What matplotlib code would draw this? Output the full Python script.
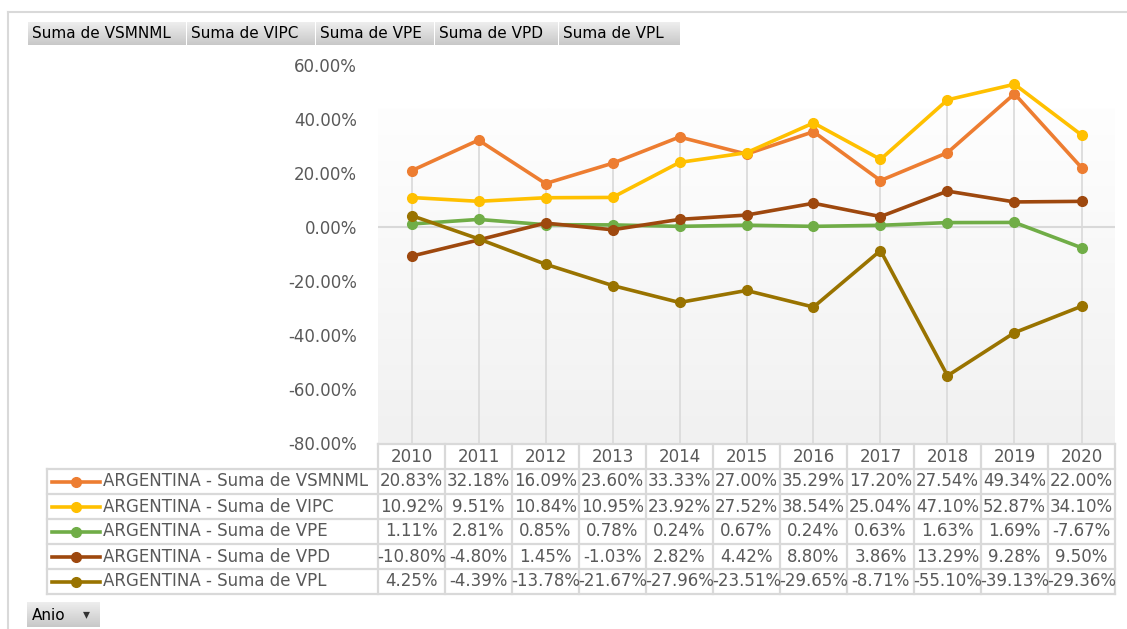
import numpy as np
import matplotlib.pyplot as plt
from matplotlib.colors import LinearSegmentedColormap
from matplotlib.lines import Line2D

# data (percent)
years = ["2010", "2011", "2012", "2013", "2014", "2015", "2016", "2017", "2018", "2019", "2020"]
series_labels = ["ARGENTINA - Suma de VSMNML", "ARGENTINA - Suma de VIPC", "ARGENTINA - Suma de VPE",
                 "ARGENTINA - Suma de VPD", "ARGENTINA - Suma de VPL"]
vsmnml = [20.83, 32.18, 16.09, 23.60, 33.33, 27.00, 35.29, 17.20, 27.54, 49.34, 22.00]
vipc = [10.92, 9.51, 10.84, 10.95, 23.92, 27.52, 38.54, 25.04, 47.10, 52.87, 34.10]
vpe = [1.11, 2.81, 0.85, 0.78, 0.24, 0.67, 0.24, 0.63, 1.63, 1.69, -7.67]
vpd = [-10.80, -4.80, 1.45, -1.03, 2.82, 4.42, 8.80, 3.86, 13.29, 9.28, 9.50]
vpl = [4.25, -4.39, -13.78, -21.67, -27.96, -23.51, -29.65, -8.71, -55.10, -39.13, -29.36]
buttons = ["Suma de VSMNML", "Suma de VIPC", "Suma de VPE", "Suma de VPD", "Suma de VPL"]
yticks = [60, 40, 20, 0, -20, -40, -60, -80]

series = [vsmnml, vipc, vpe, vpd, vpl]
colors = ["#ED7D31", "#FFC000", "#70AD47", "#9E480E", "#997300"]

W, H = 1127, 629
fig = plt.figure(figsize=(W / 100, H / 100), dpi=100)
plt.rcParams['font.family'] = ['DejaVu Sans']
GRID = "#d9d9d9"
TXT = "#595959"
FS = 12


def fx(x):
    return x / W


def fy(y):
    return 1 - y / H


def gradient_box(x0, y0, x1, y1, top, bottom):
    a = fig.add_axes([fx(x0), fy(y1), fx(x1) - fx(x0), fy(y0) - fy(y1)])
    cm = LinearSegmentedColormap.from_list("g", [top, bottom])
    a.imshow(np.linspace(0, 1, 64).reshape(-1, 1), cmap=cm, aspect="auto", extent=[0, 1, 0, 1])
    a.set_axis_off()
    return a


# outer frame
fig.add_artist(Line2D([fx(8), 1], [fy(12), fy(12)], color=GRID, lw=1.5))
fig.add_artist(Line2D([fx(8), fx(8)], [fy(12), 0], color=GRID, lw=1.5))

# field buttons
edges = [27, 186, 315, 434, 558, 680]
for i, name in enumerate(buttons):
    gradient_box(edges[i] + 1, 22, edges[i + 1], 45, "#eeeeee", "#c8c8c8")
    fig.text(fx(edges[i] + 5), fy(34), name, fontsize=11, color="black", va="center", ha="left")

gradient_box(27, 602, 100, 627, "#eeeeee", "#c8c8c8")
fig.text(fx(32), fy(615), "Anio", fontsize=11, color="black", va="center", ha="left")
fig.text(fx(86), fy(614), "\u25BE", fontsize=10, color="#333333", va="center", ha="center")

# main chart
left, right, top, bottom = 378, 1115, 65, 443
ax = fig.add_axes([fx(left), fy(bottom), fx(right) - fx(left), fy(top) - fy(bottom)])
x = np.arange(len(years))
ax.set_xlim(-0.5, len(years) - 0.5)
ax.set_ylim(-80, 60)
cm = LinearSegmentedColormap.from_list("bg", ["#fefefe", "#f1f1f1"])
ax.imshow(np.linspace(0, 1, 128).reshape(-1, 1), cmap=cm, aspect="auto",
          extent=[-0.5, len(years) - 0.5, -80, 44], zorder=0)
ax.axhline(0, color=GRID, lw=1.5, zorder=1)
tops = np.max(np.array(series), axis=0)
ax.vlines(x, -80, tops, color=GRID, lw=1.2, zorder=1)
for vals, c in zip(series, colors):
    ax.plot(x, vals, color=c, lw=2.6, marker="o", ms=7, zorder=3)
ax.set_yticks(yticks)
ax.set_yticklabels([f"{v:.2f}%" for v in yticks], color=TXT, fontsize=FS)
ax.tick_params(axis="y", length=0, pad=15)
ax.set_xticks([])
for s in ax.spines.values():
    s.set_visible(False)

# data table
colw = (right - left) / len(years)
hdr_top, row_h = 444, 25
nrows = len(series)
tab_bottom = hdr_top + row_h * (nrows + 1)
lw_t = 1.6
fig.add_artist(Line2D([fx(left), fx(right)], [fy(hdr_top)] * 2, color=GRID, lw=lw_t))
for r in range(1, nrows + 2):
    yy = hdr_top + row_h * r
    fig.add_artist(Line2D([fx(47), fx(right)], [fy(yy)] * 2, color=GRID, lw=lw_t))
for i in range(len(years) + 1):
    xx = left + colw * i
    fig.add_artist(Line2D([fx(xx)] * 2, [fy(hdr_top), fy(tab_bottom)], color=GRID, lw=lw_t))
fig.add_artist(Line2D([fx(47)] * 2, [fy(hdr_top + row_h), fy(tab_bottom)], color=GRID, lw=lw_t))

for i, yr in enumerate(years):
    fig.text(fx(left + colw * (i + 0.5)), fy(hdr_top + row_h / 2), yr, fontsize=FS, color=TXT,
             ha="center", va="center")
for r, (vals, c, lab) in enumerate(zip(series, colors, series_labels)):
    yc = hdr_top + row_h * (r + 1.5)
    fig.add_artist(Line2D([fx(52), fx(100)], [fy(yc)] * 2, color=c, lw=2.6))
    fig.add_artist(Line2D([fx(76)], [fy(yc)], color=c, marker="o", ms=7))
    fig.text(fx(103), fy(yc), lab, fontsize=FS, color=TXT, ha="left", va="center")
    for i, v in enumerate(vals):
        fig.text(fx(left + colw * (i + 0.5)), fy(yc), f"{v:.2f}%", fontsize=FS, color=TXT,
                 ha="center", va="center")

fig.savefig("out.png", dpi=100)
